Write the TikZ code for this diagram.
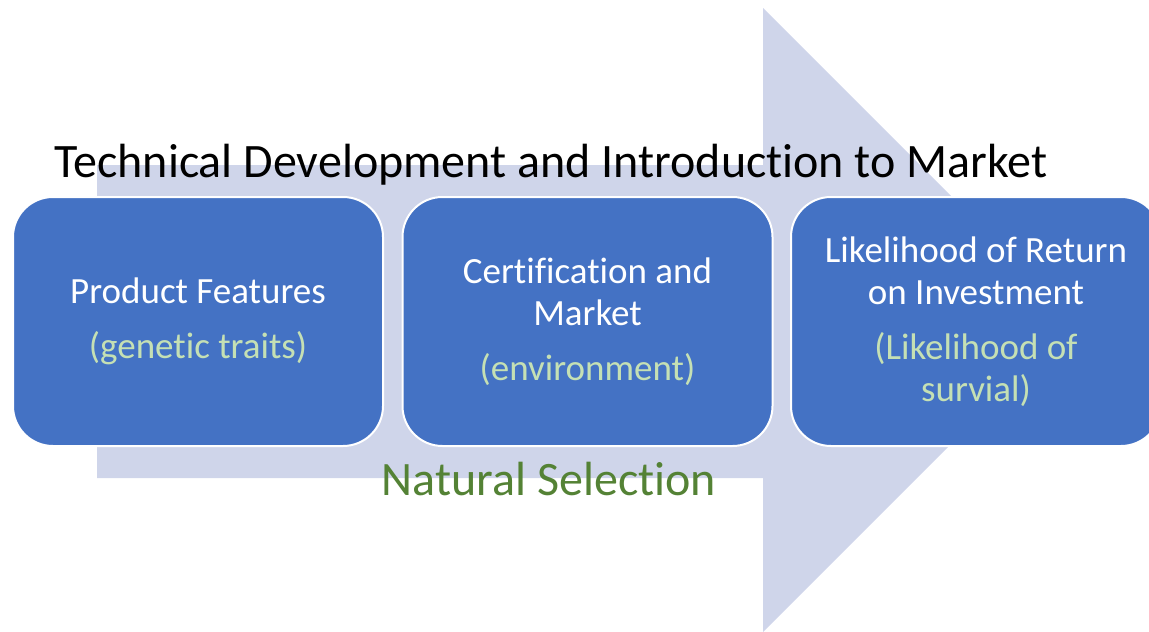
\documentclass[tikz,border=0pt]{standalone}
\usepackage{fontspec}
\setmainfont{Carlito}[RawFeature={-liga;-clig;-calt;-dlig}]
\definecolor{arrowfill}{HTML}{CFD5EA}
\definecolor{boxfill}{HTML}{4472C4}
\definecolor{subtext}{HTML}{C5E0B4}
\definecolor{selgreen}{HTML}{548235}
\begin{document}
\begin{tikzpicture}[x=1pt,y=-1pt,
  stagebox/.style={draw=white,line width=2pt,fill=boxfill,rounded corners=40pt,
    minimum width=370pt,minimum height=249pt,inner sep=0pt,text=white,
    align=center,font=\fontsize{37}{42}\selectfont},
  bigtext/.style={anchor=base,font=\fontsize{48}{56}\selectfont}]
  \useasboundingbox (0,0) rectangle (1149,632);
  % broad background arrow
  \fill[arrowfill] (97,165) -- (763,165) -- (763,8) -- (1075,320)
    -- (763,632) -- (763,478) -- (97,478) -- cycle;
  \node[bigtext] (title) at (551,177)
    {Technical Development and Introduction to Market};
  % the three stages
  \node[stagebox] (features) at (198,321.5)
    {Product Features\\[13pt]\textcolor{subtext}{(genetic traits)}};
  \node[stagebox] (market) at (587.5,321.5)
    {Certification and\\Market\\[13pt]\textcolor{subtext}{(environment)}};
  \node[stagebox] (roi) at (976,321.5)
    {Likelihood of Return\\on Investment\\[13pt]\textcolor{subtext}{(Likelihood of}\\\textcolor{subtext}{survial)}};
  \node[bigtext,text=selgreen] (selection) at (549,495)
    {Natural Selection};
\end{tikzpicture}
\end{document}
